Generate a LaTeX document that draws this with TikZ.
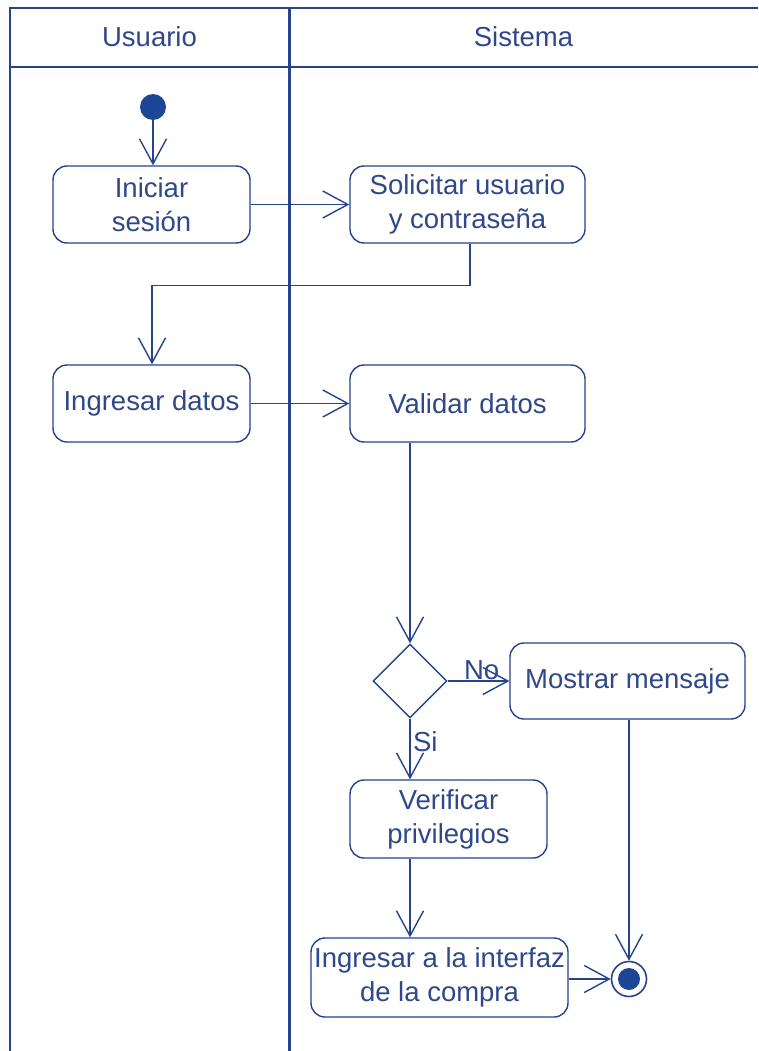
\documentclass[tikz,border=0pt]{standalone}
\usepackage{fontspec}
\setmainfont{Liberation Sans}
\usetikzlibrary{arrows.meta,shapes.geometric,calc}
\definecolor{lineblue}{RGB}{38,68,140}
\definecolor{textblue}{RGB}{48,72,138}
\definecolor{fillblue}{RGB}{30,70,150}
\begin{document}
\begin{tikzpicture}[x=1pt,y=-1pt,
  every node/.style={font=\fontsize{27.5}{34}\selectfont, text=textblue},
  act/.style={draw=lineblue, line width=1.4pt, rounded corners=14pt, fill=white, align=center, inner sep=0pt},
  arr/.style={draw=lineblue, line width=1.4pt, -{Straight Barb[length=25pt,width=27pt,line width=1.4pt]}},
  lane/.style={draw=lineblue}
]
\useasboundingbox (0,0) rectangle (758,1051);
\fill[white] (0,0) rectangle (758,1051);
% swimlane frame
\draw[lane, line width=1.6pt] (10,1051) -- (10,8) -- (758,8);
\draw[lane, line width=2pt] (10,67) -- (758,67);
\draw[lane, line width=3pt] (289,8) -- (289,1051);
\node (hU) at (149.5,37) {Usuario};
\node (hS) at (523.5,37) {Sistema};
% nodes
\node[circle, fill=fillblue, minimum size=26pt, inner sep=0pt] (start) at (153,107) {};
\node[act, minimum width=197pt, minimum height=77pt] (iniciar) at (151.5,204.5) {Iniciar\\sesión};
\node[act, minimum width=235pt, minimum height=77pt] (solicitar) at (467.5,204.5) {Solicitar usuario\\y contraseña};
\node[act, minimum width=197pt, minimum height=77pt] (ingresar) at (151.5,403.5) {Ingresar datos};
\node[act, minimum width=235pt, minimum height=77pt] (validar) at (467.5,403.5) {Validar datos};
\node[diamond, draw=lineblue, line width=1.4pt, fill=white, minimum width=74pt, minimum height=74pt, inner sep=0pt] (dec) at (410,681) {};
\node[act, minimum width=235pt, minimum height=76pt] (mostrar) at (627.5,681) {Mostrar mensaje};
\node[act, minimum width=197pt, minimum height=78pt] (verificar) at (448.5,819) {Verificar\\privilegios};
\node[act, minimum width=257pt, minimum height=79pt] (interfaz) at (439.5,977.5) {Ingresar a la interfaz\\de la compra};
\node[circle, draw=lineblue, line width=1.6pt, fill=white, minimum size=35pt, inner sep=0pt] (final) at (629,979) {};
\node[circle, fill=fillblue, minimum size=22pt, inner sep=0pt] (finalin) at (final.center) {};
% connectors
\draw[arr] (start.south) -- (start.south |- iniciar.north);
\draw[arr] (iniciar.east) -- (solicitar.west);
\draw[arr] ([xshift=2.5pt]solicitar.south) -- ++(0,42) -| ([xshift=0.5pt]ingresar.north);
\draw[arr] (iniciar.east |- ingresar.east) -- (validar.west);
\draw[arr] (dec.north |- validar.south) -- (dec.north);
\draw[arr] (dec.east) -- node[above, pos=0.55, yshift=-3pt] (lno) {No} (mostrar.west);
\draw[arr] (dec.south) -- node[right, pos=0.38, xshift=-1pt] (lsi) {Si} (dec.south |- verificar.north);
\draw[arr] (dec.south |- verificar.south) -- (dec.south |- interfaz.north);
\draw[arr] (final.west -| interfaz.east) -- (final.west);
\draw[arr] (final.north |- mostrar.south) -- (final.north);
\end{tikzpicture}
\end{document}
